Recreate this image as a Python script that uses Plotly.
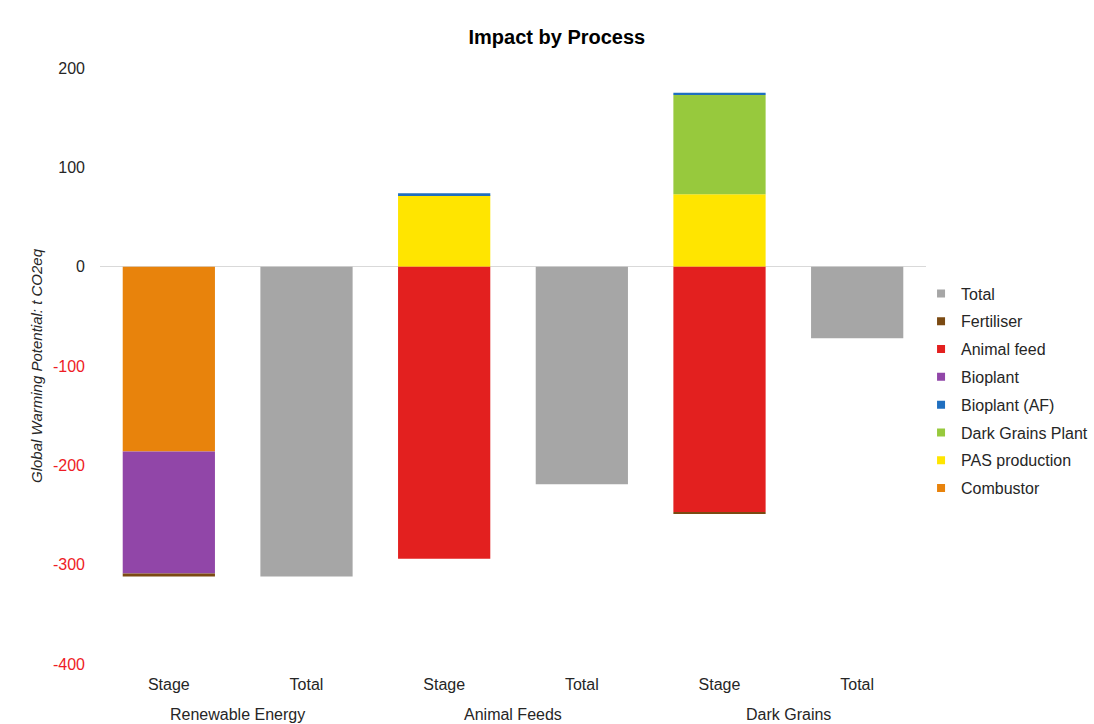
import plotly.graph_objects as go

groups = ["Renewable Energy", "Renewable Energy", "Animal Feeds", "Animal Feeds", "Dark Grains", "Dark Grains"]
kinds = ["Stage", "Total", "Stage", "Total", "Stage", "Total"]
group_labels = ["Renewable Energy", "Animal Feeds", "Dark Grains"]

series_names = ["Combustor", "PAS production", "Dark Grains Plant", "Bioplant (AF)",
                "Bioplant", "Animal feed", "Fertiliser", "Total"]
combustor = [-186, 0, 0, 0, 0, 0]
pas_production = [0, 0, 72, 0, 73, 0]
dark_grains_plant = [0, 0, 0, 0, 100, 0]
bioplant_af = [0, 0, 2, 0, 2, 0]
bioplant = [-123, 0, 0, 0, 0, 0]
animal_feed = [0, 0, -294, 0, -247, 0]
fertiliser = [-3, 0, 0, 0, -2, 0]
total = [0, -312, 0, -219, 0, -72]

series_values = [combustor, pas_production, dark_grains_plant, bioplant_af,
                 bioplant, animal_feed, fertiliser, total]
colors = ["#E8830C", "#FFE500", "#97C93D", "#1F6FC0", "#9146A8", "#E3201F", "#7B4A12", "#A6A6A6"]

y_ticks = [-400, -300, -200, -100, 0, 100, 200]

xpos = list(range(len(kinds)))

fig = go.Figure()
n = len(series_names)
for i, (name, vals, col) in enumerate(zip(series_names, series_values, colors)):
    fig.add_trace(go.Bar(
        x=xpos, y=vals, name=name, showlegend=False,
        marker=dict(color=col, line=dict(width=0)),
    ))
    # legend entry (small square marker), ordered as in the reference (reversed)
    fig.add_trace(go.Scatter(
        x=[None], y=[None], mode="markers", name=name, legendrank=n - i,
        legendgroup=name,
        marker=dict(symbol="square", size=8, color=col),
    ))

tick_text = [f'<span style="color:#EE1C25">{v}</span>' if v < 0 else str(v) for v in y_ticks]

annotations = []
for gi, g in enumerate(group_labels):
    idx = [k for k, gg in enumerate(groups) if gg == g]
    annotations.append(dict(
        x=sum(idx) / len(idx), xref="x", y=-0.084, yref="paper", yanchor="middle",
        text=g, showarrow=False, font=dict(size=16, color="#262626"),
    ))

fig.update_layout(
    barmode="relative",
    bargap=0.33,
    width=1094, height=724,
    paper_bgcolor="white", plot_bgcolor="white",
    margin=dict(l=100, r=168, t=68, b=60, autoexpand=False),
    font=dict(family="Liberation Sans, Arial, sans-serif", size=16, color="#262626"),
    title=dict(text="<b>Impact by Process</b>", x=0.509, xanchor="center", y=0.949, yanchor="middle",
               font=dict(size=20, color="#000000")),
    legend=dict(x=0.994, xanchor="left", y=0.458, yanchor="middle", traceorder="grouped",
                tracegroupgap=4, font=dict(size=16, color="#262626"), itemwidth=30,
                bgcolor="rgba(0,0,0,0)"),
    showlegend=True,
    annotations=annotations,
)
fig.update_yaxes(
    range=[-400, 200], tickvals=y_ticks, ticktext=tick_text, showgrid=False,
    zeroline=True, zerolinecolor="#D9D9D9", zerolinewidth=1, ticklabelstandoff=14,
    title=dict(text="<i>Global Warming Potential: t CO2eq</i>", font=dict(size=15, color="#262626"), standoff=6),
    showline=False,
)
fig.update_xaxes(range=[-0.5, len(kinds) - 0.5], tickvals=xpos, ticktext=kinds, showgrid=False,
                 showline=False, zeroline=False, ticklabelstandoff=9, tickfont=dict(size=16))

fig.write_html("out.html")
